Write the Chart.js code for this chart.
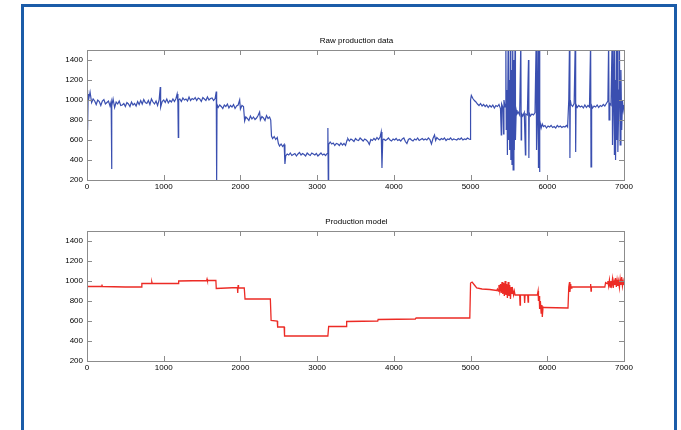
<!DOCTYPE html>
<html>
<head>
<meta charset="utf-8">
<script src="https://cdn.jsdelivr.net/npm/chart.js@4/dist/chart.umd.min.js"></script>
<style>
  body { margin: 0; background: #fff; }
  #page { position: relative; width: 681px; height: 430px; overflow: hidden; background: #fff; }
  #frame { position: absolute; left: 21px; top: 4px; width: 650px; height: 440px;
           border: 3px solid #1b5ca8; border-bottom: none; }
  canvas { position: absolute; left: 0; }
  #rawChart { top: 0; }
  #modelChart { top: 200px; }
</style>
</head>
<body>
<div id="page">
  <div id="frame"></div>
  <canvas id="rawChart" width="681" height="200"></canvas>
  <canvas id="modelChart" width="681" height="200"></canvas>
</div>
<script>
// tick labels
const xTicks = [0, 1000, 2000, 3000, 4000, 5000, 6000, 7000];
const yTicks = [200, 400, 600, 800, 1000, 1200, 1400];

// raw production data
const rawX = [
  0, 5, 10, 15, 20, 40, 60, 80, 100, 120, 140, 160, 180, 200, 220, 240, 260, 280, 300, 315,
  320, 325, 340, 360, 380, 400, 420, 440, 460, 480, 500, 520, 540, 560, 580, 600, 620, 640, 660, 680,
  700, 720, 740, 760, 780, 800, 820, 840, 860, 880, 900, 920, 940, 955, 960, 980, 1000, 1020, 1040, 1060,
  1080, 1100, 1120, 1140, 1160, 1175, 1185, 1190, 1195, 1210, 1230, 1250, 1270, 1290, 1310, 1330, 1350, 1370, 1390, 1410,
  1430, 1450, 1470, 1490, 1510, 1530, 1550, 1570, 1590, 1610, 1630, 1650, 1670, 1685, 1690, 1695, 1710, 1730, 1750, 1770,
  1790, 1810, 1830, 1850, 1870, 1890, 1910, 1930, 1950, 1970, 1990, 2000, 2020, 2040, 2055, 2070, 2090, 2110, 2130, 2150,
  2170, 2190, 2210, 2230, 2250, 2260, 2280, 2300, 2320, 2340, 2360, 2380, 2395, 2405, 2420, 2440, 2460, 2480, 2495, 2510,
  2530, 2550, 2570, 2580, 2590, 2610, 2630, 2650, 2670, 2690, 2710, 2730, 2750, 2770, 2790, 2810, 2830, 2850, 2870, 2890,
  2910, 2930, 2950, 2970, 2990, 3010, 3030, 3050, 3070, 3090, 3110, 3130, 3140, 3145, 3150, 3170, 3190, 3210, 3230, 3250,
  3270, 3290, 3310, 3330, 3350, 3370, 3390, 3400, 3420, 3440, 3460, 3480, 3500, 3520, 3540, 3560, 3580, 3600, 3620, 3640,
  3660, 3680, 3700, 3720, 3740, 3760, 3780, 3800, 3820, 3835, 3845, 3855, 3870, 3890, 3910, 3930, 3950, 3970, 3990, 4010,
  4030, 4050, 4070, 4090, 4110, 4130, 4150, 4170, 4190, 4210, 4230, 4250, 4270, 4290, 4310, 4330, 4350, 4370, 4390, 4410,
  4430, 4450, 4470, 4490, 4510, 4530, 4545, 4560, 4580, 4600, 4620, 4640, 4660, 4680, 4700, 4720, 4740, 4760, 4780, 4800,
  4820, 4840, 4860, 4880, 4900, 4920, 4940, 4960, 4980, 4995, 5000, 5010, 5030, 5050, 5070, 5090, 5110, 5130, 5150, 5170,
  5190, 5210, 5230, 5250, 5270, 5290, 5310, 5330, 5350, 5370, 5390, 5400, 5405, 5420, 5430, 5435, 5450, 5460, 5465, 5475,
  5480, 5490, 5495, 5505, 5510, 5520, 5525, 5535, 5540, 5550, 5555, 5565, 5570, 5580, 5585, 5595, 5605, 5620, 5640, 5655,
  5660, 5665, 5680, 5700, 5715, 5720, 5740, 5755, 5760, 5765, 5780, 5800, 5820, 5840, 5855, 5860, 5870, 5880, 5885, 5893,
  5898, 5905, 5920, 5935, 5950, 5970, 5990, 6010, 6030, 6050, 6070, 6090, 6110, 6130, 6150, 6170, 6190, 6210, 6230, 6250,
  6265, 6280, 6290, 6295, 6300, 6310, 6330, 6350, 6365, 6370, 6375, 6390, 6410, 6430, 6450, 6470, 6490, 6510, 6530, 6550,
  6565, 6570, 6578, 6590, 6610, 6630, 6650, 6670, 6690, 6710, 6730, 6750, 6770, 6790, 6800, 6805, 6815, 6830, 6845, 6850,
  6860, 6870, 6875, 6885, 6890, 6900, 6905, 6915, 6920, 6935, 6940, 6950, 6960, 6970, 6980, 6990, 7000
];
const rawY = [
  1050, 1100, 700, 1060, 1000, 1080, 975, 1010, 990, 955, 1000, 985, 945, 990, 1005, 960, 975, 990, 940, 985,
  310, 940, 1010, 925, 980, 960, 990, 945, 950, 965, 935, 975, 960, 935, 980, 950, 965, 940, 985, 955,
  995, 960, 1005, 975, 965, 995, 955, 1010, 980, 960, 990, 945, 1000, 1130, 930, 985, 1000, 975, 1010, 970,
  995, 980, 1010, 985, 1015, 1060, 975, 625, 1000, 1010, 985, 1020, 1000, 1010, 990, 1030, 995, 1015, 1005, 1025,
  995, 1020, 1010, 985, 1025, 1010, 995, 1030, 1000, 1015, 1020, 995, 1015, 1085, 190, 955, 925, 950, 935, 915,
  950, 935, 960, 920, 945, 930, 955, 915, 940, 950, 1000, 910, 945, 935, 790, 830, 815, 795, 840, 810,
  830, 805, 820, 845, 880, 800, 835, 820, 795, 845, 815, 830, 800, 640, 615, 635, 605, 625, 565, 540,
  560, 535, 555, 360, 440, 460, 450, 470, 445, 455, 465, 440, 460, 475, 450, 465, 455, 440, 470, 455,
  445, 470, 460, 450, 465, 440, 455, 470, 450, 460, 445, 465, 720, 190, 555, 580, 560, 570, 545, 565,
  560, 545, 570, 550, 565, 545, 600, 615, 590, 610, 600, 585, 615, 600, 595, 620, 605, 590, 610, 600,
  585, 555, 605, 595, 615, 600, 625, 605, 630, 680, 320, 600, 610, 595, 605, 620, 600, 590, 610, 600,
  615, 595, 605, 590, 610, 620, 585, 565, 605, 615, 600, 590, 610, 600, 620, 595, 605, 615, 600, 610,
  600, 620, 605, 560, 615, 650, 595, 625, 610, 600, 615, 605, 620, 595, 610, 605, 620, 600, 610, 605,
  600, 615, 605, 620, 600, 610, 605, 620, 610, 605, 1000, 1045, 1015, 995, 980, 960, 945, 965, 940, 955,
  935, 950, 925, 945, 930, 950, 920, 945, 935, 955, 915, 650, 960, 930, 660, 1000, 930, 1600, 700, 1100,
  450, 1600, 600, 1200, 500, 1600, 400, 1300, 350, 1600, 300, 1400, 500, 1600, 600, 900, 860, 880, 850, 1600,
  600, 865, 840, 875, 450, 860, 850, 1400, 420, 870, 840, 860, 850, 875, 1600, 500, 840, 1600, 320, 1600,
  280, 800, 720, 760, 735, 745, 720, 740, 730, 745, 725, 735, 720, 745, 730, 740, 725, 735, 730, 745,
  730, 1000, 1600, 420, 1000, 955, 935, 965, 1600, 480, 955, 925, 945, 930, 940, 920, 950, 925, 945, 930,
  1600, 330, 945, 920, 940, 930, 950, 925, 945, 935, 955, 940, 965, 990, 1600, 800, 965, 950, 1600, 550,
  1000, 1600, 450, 1200, 400, 1600, 600, 1500, 480, 1100, 1600, 550, 1300, 700, 1000, 900, 950
];

// production model
const modelX = [
  0, 190, 195, 200, 500, 710, 715, 840, 845, 850, 1190, 1195, 1560, 1565, 1570, 1680, 1685, 1960, 1965, 1970,
  1975, 2050, 2060, 2390, 2400, 2480, 2485, 2570, 2575, 3140, 3150, 3380, 3385, 3790, 3795, 4280, 4290, 4990, 5000, 5020,
  5050, 5080, 5150, 5250, 5340, 5350, 5360, 5370, 5380, 5390, 5400, 5410, 5420, 5430, 5440, 5450, 5460, 5470, 5480, 5490,
  5500, 5510, 5520, 5530, 5540, 5550, 5560, 5570, 5580, 5600, 5640, 5645, 5650, 5700, 5705, 5710, 5745, 5750, 5755, 5870,
  5880, 5885, 5895, 5900, 5910, 5920, 5930, 5935, 5945, 5960, 6270, 6280, 6290, 6295, 6305, 6310, 6320, 6560, 6565, 6570,
  6575, 6750, 6760, 6780, 6790, 6800, 6810, 6820, 6830, 6840, 6850, 6860, 6870, 6880, 6890, 6900, 6910, 6920, 6930, 6940,
  6950, 6960, 6970, 6980, 6990, 7000
];
const modelY = [
  945, 945, 965, 945, 940, 940, 975, 975, 990, 975, 975, 1000, 1005, 1020, 1005, 1005, 925, 935, 880, 960,
  930, 930, 820, 820, 605, 600, 540, 540, 450, 450, 545, 545, 595, 600, 615, 620, 630, 630, 980, 990,
  960, 930, 920, 915, 905, 920, 900, 960, 900, 970, 880, 990, 870, 980, 850, 1000, 860, 970, 830, 990,
  850, 960, 820, 940, 870, 910, 860, 900, 860, 860, 860, 760, 860, 860, 780, 860, 860, 790, 860, 860,
  900, 800, 850, 720, 800, 680, 760, 640, 740, 735, 730, 940, 990, 890, 970, 930, 940, 940, 970, 900,
  940, 940, 985, 975, 1000, 950, 1010, 940, 1000, 960, 1020, 930, 1000, 960, 1030, 940, 1010, 950, 1000, 935,
  1020, 960, 1040, 950, 1000, 960
];

const tickFont = { family: '"Liberation Sans", Arial, sans-serif', size: 8 };

// box round the plot, inward ticks on all four sides, title above
const boxPlugin = {
  id: 'box',
  afterDraw(chart) {
    const { ctx, chartArea: a, scales } = chart;
    ctx.save();
    ctx.strokeStyle = '#8c8c8c';
    ctx.lineWidth = 1;
    ctx.strokeRect(a.left + 0.5, a.top + 0.5, a.right - a.left, a.bottom - a.top);
    ctx.beginPath();
    xTicks.forEach(v => {
      const px = Math.round(scales.x.getPixelForValue(v)) + 0.5;
      ctx.moveTo(px, a.bottom); ctx.lineTo(px, a.bottom - 5);
      ctx.moveTo(px, a.top); ctx.lineTo(px, a.top + 5);
    });
    yTicks.forEach(v => {
      const py = Math.round(scales.y.getPixelForValue(v)) + 0.5;
      ctx.moveTo(a.left, py); ctx.lineTo(a.left + 5, py);
      ctx.moveTo(a.right, py); ctx.lineTo(a.right - 5, py);
    });
    ctx.stroke();
    ctx.fillStyle = '#000';
    ctx.font = '8px "Liberation Sans", Arial, sans-serif';
    ctx.textAlign = 'center';
    ctx.textBaseline = 'middle';
    ctx.fillText(chart.options.plugins.box.title, (a.left + a.right) / 2 + 1, a.top - 9);
    ctx.restore();
  }
};

function makeChart(id, xs, ys, color, width, title, padTop, padBottom) {
  const pts = xs.map((x, i) => ({ x: x, y: ys[i] }));
  return new Chart(document.getElementById(id), {
    type: 'line',
    data: { datasets: [{ data: pts, borderColor: color, borderWidth: width, pointRadius: 0, tension: 0 }] },
    options: {
      responsive: false,
      animation: false,
      devicePixelRatio: 1,
      layout: { padding: { left: 47, right: 57, top: padTop, bottom: padBottom } },
      plugins: { legend: { display: false }, tooltip: { enabled: false }, box: { title: title } },
      scales: {
        x: {
          type: 'linear', min: 0, max: 7000,
          grid: { display: false, drawTicks: false },
          border: { display: false },
          afterBuildTicks: s => { s.ticks = xTicks.map(v => ({ value: v })); },
          afterFit: s => { s.height = 20; },
          ticks: { font: tickFont, color: '#000', padding: 2, autoSkip: false, maxRotation: 0,
                   callback: v => String(v) }
        },
        y: {
          min: 200, max: 1500,
          grid: { display: false, drawTicks: false },
          border: { display: false },
          afterBuildTicks: s => { s.ticks = yTicks.map(v => ({ value: v })); },
          afterFit: s => { s.width = 40; },
          ticks: { font: tickFont, color: '#000', padding: 4, callback: v => String(v) }
        }
      }
    },
    plugins: [boxPlugin]
  });
}

makeChart('rawChart', rawX, rawY, '#3a4fb0', 1.2, 'Raw production data', 50, 0);
makeChart('modelChart', modelX, modelY, '#ec2b25', 1.3, 'Production model', 31, 19);
</script>
</body>
</html>
